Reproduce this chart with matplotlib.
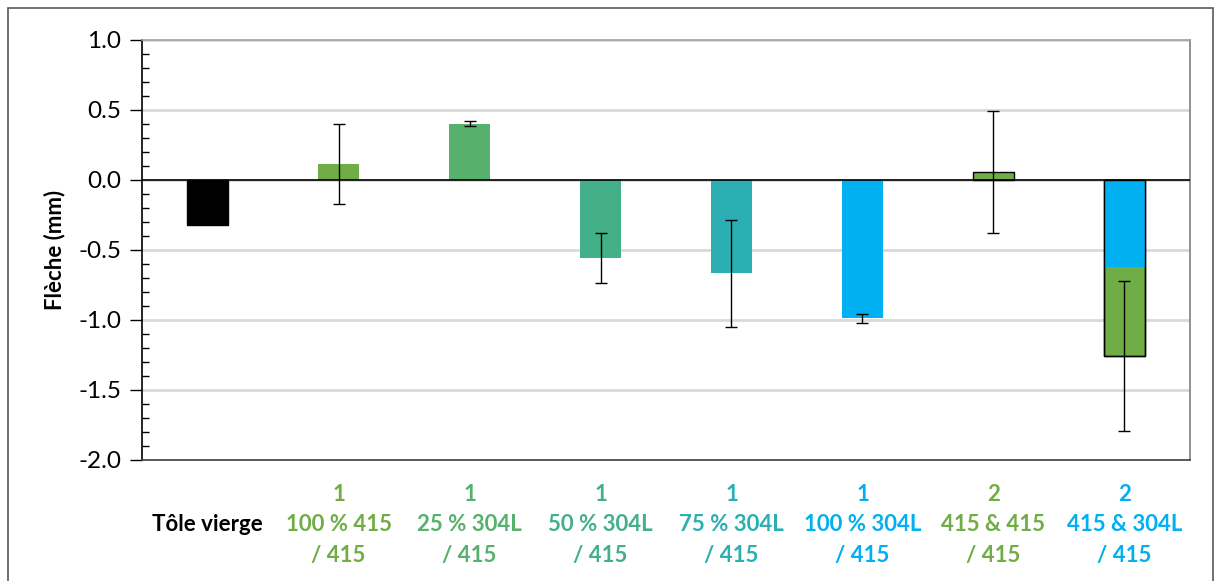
import numpy as np
import matplotlib
matplotlib.use("Agg")
import matplotlib.pyplot as plt
from matplotlib.patches import Rectangle
from matplotlib.ticker import MultipleLocator

plt.rcParams['font.family'] = ['Lato', 'DejaVu Sans']
plt.rcParams['axes.unicode_minus'] = False

# categories (three-line labels) and their colours
labels = ["\nTôle vierge\n",
          "1\n100 % 415\n/ 415",
          "1\n25 % 304L\n/ 415",
          "1\n50 % 304L\n/ 415",
          "1\n75 % 304L\n/ 415",
          "1\n100 % 304L\n/ 415",
          "2\n415 & 415\n/ 415",
          "2\n415 & 304L\n/ 415"]
label_colors = ["#000000", "#70AD47", "#57B06C", "#43B08A",
                "#2BAFB2", "#00B0F0", "#70AD47", "#00B0F0"]

# deflection values (mm) and error bars
fleche = [-0.32, 0.115, 0.40, -0.557, -0.667, -0.988, 0.055, -1.255]
erreur = [0.0, 0.285, 0.018, 0.178, 0.38, 0.033, 0.435, 0.536]
bar_colors = ["#000000", "#70AD47", "#57B06C", "#43B08A",
              "#2BAFB2", "#00B0F0", "#70AD47", "#70AD47"]
edged = [True, False, False, False, False, False, True, True]

# last bar is split: 304L part on top (blue), 415 part below (green)
split_top = -0.62

y_ticks = [-2.0, -1.5, -1.0, -0.5, 0.0, 0.5, 1.0]
y_ticklabels = ["-2.0", "-1.5", "-1.0", "-0.5", "0.0", "0.5", "1.0"]


def main():
    fig = plt.figure(figsize=(12.15, 5.81), dpi=100)
    ax = fig.add_axes([0.1169, 0.2083, 0.9794 - 0.1169, 0.9312 - 0.2083])

    x = np.arange(len(fleche))
    width = 0.31

    ax.yaxis.grid(True, which='major', color='#D9D9D9', linewidth=2, zorder=0)
    ax.set_axisbelow(True)

    for i in range(len(fleche)):
        ec = 'black' if edged[i] else 'none'
        ax.bar(x[i], fleche[i], width, color=bar_colors[i], edgecolor=ec,
               linewidth=1, zorder=2)
    # upper blue part of the stacked bar
    ax.bar(x[-1], split_top, width, color="#00B0F0", edgecolor='none', zorder=3)
    ax.bar(x[-1], fleche[-1], width, color='none', edgecolor='black',
           linewidth=1, zorder=4)

    ax.errorbar(x[1:], fleche[1:], yerr=erreur[1:], fmt='none', ecolor='black',
                elinewidth=1, capsize=4.5, capthick=1, zorder=5)

    ax.axhline(0, color='black', linewidth=1.2, zorder=4)

    ax.set_xlim(-0.5, len(fleche) - 0.5)
    ax.set_ylim(-2.0, 1.0)
    ax.set_yticks(y_ticks)
    ax.set_yticklabels(y_ticklabels, fontsize=17.5)
    ax.yaxis.set_minor_locator(MultipleLocator(0.1))
    ax.tick_params(axis='y', which='major', direction='out', length=9,
                   width=1, pad=6)
    ax.tick_params(axis='y', which='minor', direction='in', length=5, width=1)

    ax.set_xticks(x)
    ax.set_xticklabels(labels, fontsize=16, fontweight='bold', linespacing=1.57)
    for tl, c in zip(ax.get_xticklabels(), label_colors):
        tl.set_color(c)
    ax.tick_params(axis='x', length=0, pad=17)

    ax.set_ylabel('Flèche (mm)', fontsize=16, fontweight='bold', labelpad=9)

    ax.spines['left'].set_color('black')
    ax.spines['bottom'].set_color('#404040')
    ax.spines['top'].set_color('#A0A0A0')
    ax.spines['right'].set_color('#808080')
    for s in ax.spines.values():
        s.set_linewidth(1.2)

    # outer chart frame
    fig.patches.append(Rectangle((8 / 1215, -0.05), 1205 / 1215, 1.05 - 8 / 581,
                                 transform=fig.transFigure, fill=False,
                                 edgecolor='#595959', linewidth=1.2))

    fig.savefig("out.png", dpi=100)


if __name__ == "__main__":
    main()
